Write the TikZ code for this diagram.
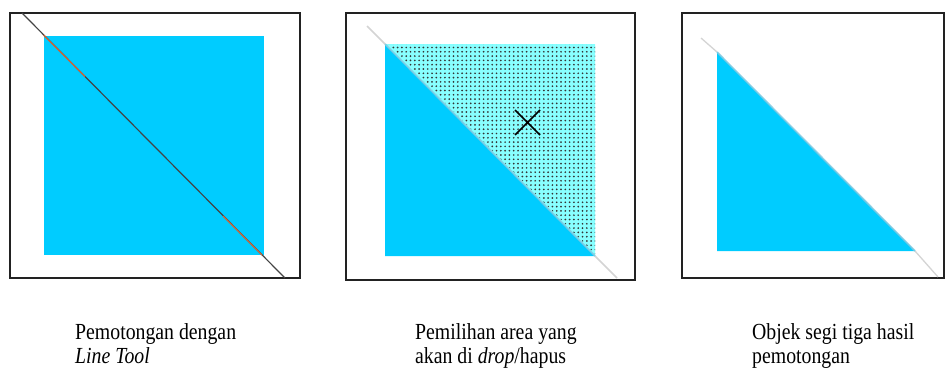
\documentclass[tikz,border=0pt]{standalone}
\usepackage{fontspec}
\setmainfont{Liberation Serif}
\newfontfamily\capfont[FakeStretch=0.86]{Liberation Serif}
\usetikzlibrary{patterns}
\definecolor{skyb}{HTML}{00CCFF}
\definecolor{lcyan}{HTML}{88FFFF}
\definecolor{framec}{HTML}{222222}
\definecolor{cutc}{HTML}{444444}
\definecolor{orangec}{HTML}{D0683A}
\definecolor{guide}{HTML}{D4D4D4}
\definecolor{edgeb}{HTML}{7FC8E0}
\pgfdeclarepatternformonly{mydots}{\pgfpoint{-1pt}{-1pt}}{\pgfpoint{5.3pt}{5.3pt}}{\pgfpoint{4.3pt}{4.3pt}}{%
  \pgfpathcircle{\pgfpoint{2pt}{2pt}}{0.95pt}\pgfusepath{fill}}
\tikzset{
  framebox/.style={draw=framec, line width=1.4pt},
  captext/.style={font=\capfont\fontsize{23}{24}\selectfont, anchor=base west, align=left, inner sep=0pt},
}
\begin{document}
\begin{tikzpicture}[x=1pt,y=-1pt]
\useasboundingbox (0,0) rectangle (945,372);
% Panel 1
\draw[framebox] (10,13) rectangle (300,278);
\fill[skyb] (43.5,36) rectangle (264,255);
\coordinate (a1) at (22,13);
\coordinate (b1) at (285,278);
\draw[cutc, line width=1.2pt] (a1) -- (b1);
\coordinate (o1) at (43.5,35);
\coordinate (o2) at (85,76.5);
\coordinate (o3) at (223,216);
\coordinate (o4) at (262,255);
\draw[orangec, line width=1.2pt] (o1) -- (o2);
\draw[orangec, line width=1.2pt] (o3) -- (o4);
% Panel 2
\draw[framebox] (346,13) rectangle (635,280);
\fill[skyb] (385,44) -- (595,256) -- (385,256) -- cycle;
\fill[lcyan] (385,44) -- (595,44) -- (595,256) -- cycle;
\fill[pattern=mydots, pattern color=black!80] (387,44) -- (595,44) -- (595,254) -- cycle;
\coordinate (a2) at (367,26);
\coordinate (b2) at (617,278);
\draw[guide, line width=1.5pt] (a2) -- (385,44);
\draw[guide, line width=1.5pt] (595,256) -- (b2);
\draw[edgeb, line width=1.8pt, opacity=0.8] (385,44) -- (595,256);
\draw[black, line width=1.5pt] (515,110) -- (540,135) (540,110) -- (515,135);
% Panel 3
\draw[framebox] (682,13) rectangle (944,278);
\fill[skyb] (717,52) -- (915,251) -- (717,251) -- cycle;
\coordinate (a3) at (701,38);
\coordinate (b3) at (938,277);
\draw[guide, line width=1.3pt] (a3) -- (717,52);
\draw[guide, line width=1.3pt] (915,251) -- (b3);
\draw[edgeb, line width=1.8pt, opacity=0.8] (717,52) -- (915,251);
% Captions
\node[captext] (t1) at (75,363) {Pemotongan dengan\\\textit{Line Tool}};
\node[captext] (t2) at (415,363) {Pemilihan area yang\\akan di \textit{drop}/hapus};
\node[captext] (t3) at (752,363) {Objek segi tiga hasil\\pemotongan};
\end{tikzpicture}
\end{document}
